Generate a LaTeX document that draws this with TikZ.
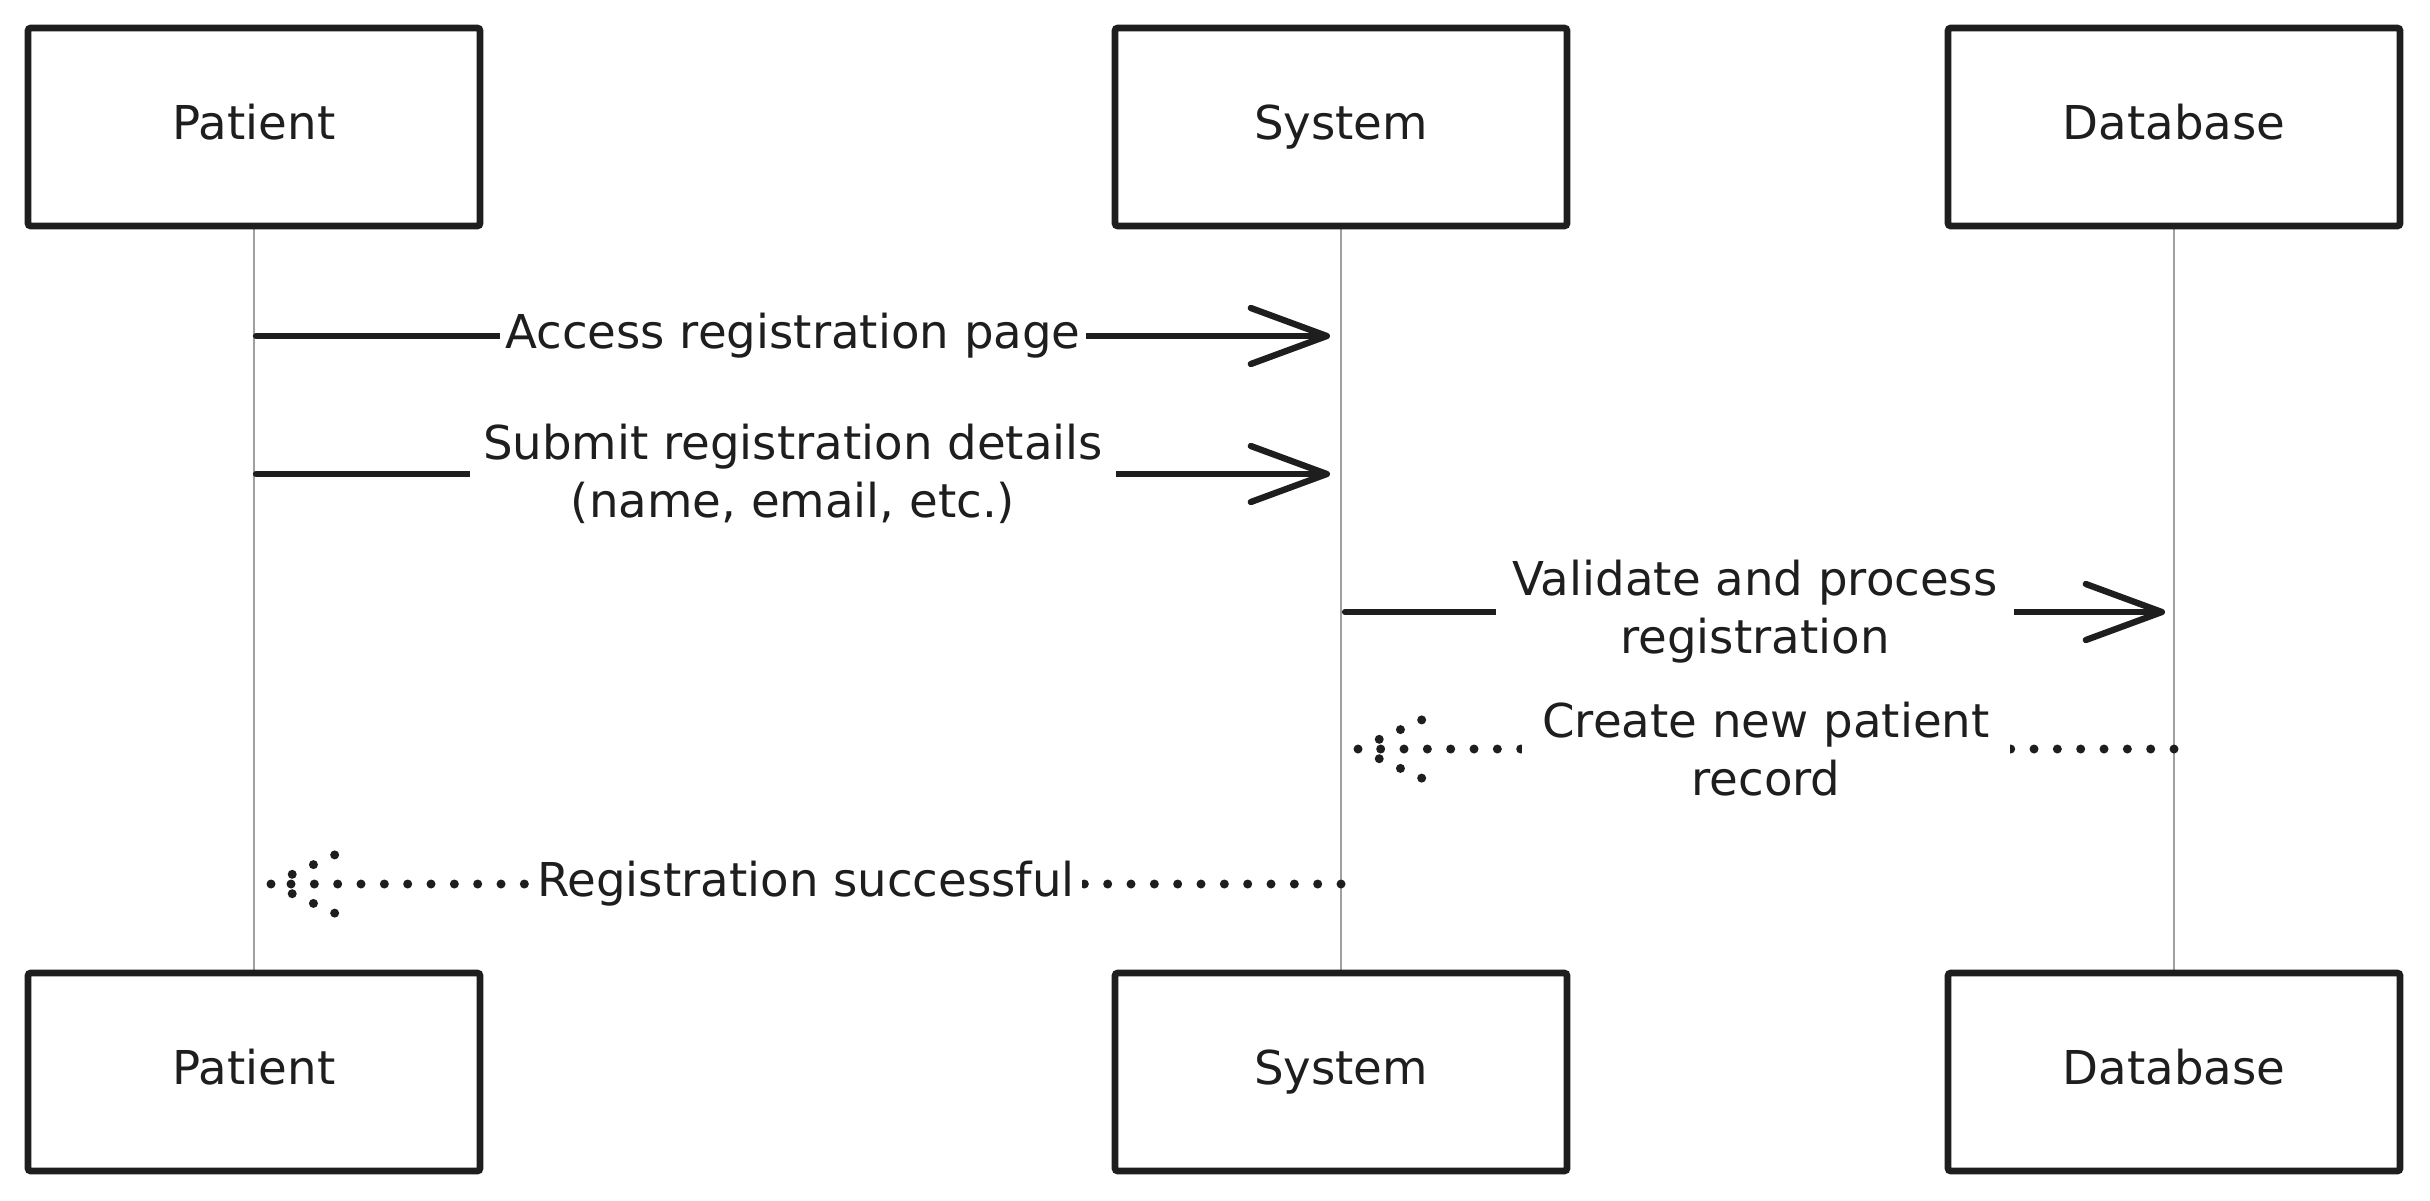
\documentclass[tikz,border=0pt]{standalone}
\usepackage{fontspec}
\setmainfont{DejaVu Sans}
\usetikzlibrary{arrows.meta,calc}
\definecolor{ink}{HTML}{1E1E1E}
\definecolor{life}{HTML}{A0A0A0}
\begin{document}
\begin{tikzpicture}[x=0.3pt,y=-0.3pt,
 actor/.style={draw=ink, line width=2pt, fill=white, minimum width=135.6pt, minimum height=59.4pt, rounded corners=0.8pt, text=ink, font=\fontsize{14}{17.4}\selectfont, inner sep=0pt, text height=10.2pt, text depth=3pt},
 lifeline/.style={draw=life, line width=0.7pt},
 msg/.style={draw=ink, line width=1.9pt, line cap=round, -{Straight Barb[length=22.8pt,width=16.8pt,round]}},
 ret/.style={draw=ink, line width=2.7pt, line cap=round, dash pattern=on 0pt off 7pt},
 lbl/.style={fill=white, text=ink, font=\fontsize{14}{17.4}\selectfont, align=center, inner xsep=1.5pt, inner ysep=0pt},
]
\useasboundingbox[fill=white] (0,0) rectangle (2430,1200);

% lifelines (drawn first)
\coordinate (ptc) at (254,127);
\coordinate (syc) at (1341,127);
\coordinate (dbc) at (2174,127);
\coordinate (pbc) at (254,1072);
\coordinate (sbc) at (1341,1072);
\coordinate (dbbc) at (2174,1072);
\draw[lifeline] (254,226) -- (254,974);
\draw[lifeline] (1341,226) -- (1341,974);
\draw[lifeline] (2174,226) -- (2174,974);

% actors
\node[actor] (pt) at (ptc) {Patient};
\node[actor] (sy) at (syc) {System};
\node[actor] (db) at (dbc) {Database};
\node[actor] (pb) at (pbc) {Patient};
\node[actor] (sb) at (sbc) {System};
\node[actor] (dbb) at (dbbc) {Database};

% message anchor points
\coordinate (m1s) at (256,336);
\coordinate (m1e) at (1330,336);
\coordinate (m2s) at (256,474);
\coordinate (m2e) at (1330,474);
\coordinate (m3s) at (1345,612);
\coordinate (m3e) at (2165,612);
\coordinate (m4s) at (2174,749);
\coordinate (m4e) at (1358,749);
\coordinate (m5s) at (1341,884);
\coordinate (m5e) at (271,884);

% messages
\draw[msg] (m1s) -- node[lbl] {Access registration page} (m1e);
\draw[msg] (m2s) -- node[lbl, inner xsep=4pt] {Submit registration details\\(name, email, etc.)} (m2e);
\draw[msg] (m3s) -- node[lbl, inner xsep=5pt] {Validate and process\\registration} (m3e);
\draw[ret] (m4s) -- node[lbl, inner xsep=6pt] {Create new patient\\record} (m4e);
\draw[ret] (m4e) -- ++(70,-32) (m4e) -- ++(70,32);
\draw[ret] (m5s) -- node[lbl, inner xsep=2pt] {Registration successful} (m5e);
\draw[ret] (m5e) -- ++(70,-32) (m5e) -- ++(70,32);
\end{tikzpicture}
\end{document}
